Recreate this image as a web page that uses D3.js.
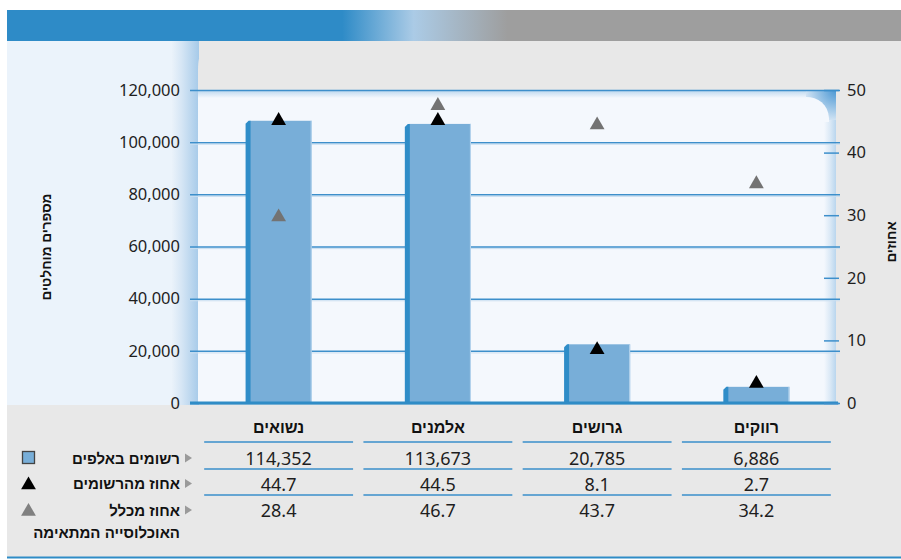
<!DOCTYPE html>
<html>
<head>
<meta charset="utf-8">
<script src="https://cdn.jsdelivr.net/npm/d3@7/dist/d3.min.js"></script>
<style>
  html, body { margin: 0; padding: 0; background: #fff; }
  svg { display: block; }
  .num { font-family: "Noto Sans", "Open Sans", sans-serif; fill: #1e1e1e; }
  .heb { font-family: "Liberation Sans", "DejaVu Sans", sans-serif; font-weight: bold; fill: #111; }
</style>
</head>
<body>
<svg id="chart" width="901" height="560"></svg>
<script>
// chart data
const categories = ['נשואים', 'אלמנים', 'גרושים', 'רווקים'];
const barValues = [108200, 107000, 22500, 6200];
const registeredPct = [45.1, 45.1, 8.5, 3.1];
const populationPct = [29.7, 47.5, 44.4, 35.0];
const leftTicks = [0, 20000, 40000, 60000, 80000, 100000, 120000];
const rightTicks = [0, 10, 20, 30, 40, 50];

// table rows under the chart
const tableRegistered = [114352, 113673, 20785, 6886];
const tablePctRegistered = [44.7, 44.5, 8.1, 2.7];
const tablePctPopulation = [28.4, 46.7, 43.7, 34.2];
const rowLabels = ['רשומים באלפים', 'אחוז מהרשומים', 'אחוז מכלל'];
const rowLabelExtra = 'האוכלוסייה המתאימה';
const leftTitle = 'מספרים מוחלטים';
const rightTitle = 'אחוזים';

const svg = d3.select('#chart');
const defs = svg.append('defs');

const plotTop = 90, plotBottom = 403;
const x = d3.scaleBand().domain(categories).range([199, 836]).padding(0);
const yLeft = d3.scaleLinear().domain([0, 120000]).range([plotBottom, plotTop]);
const yRight = d3.scaleLinear().domain([0, 50]).range([plotBottom, plotTop]);

function linGrad(id, x1, y1, x2, y2, stops) {
  const g = defs.append('linearGradient').attr('id', id)
    .attr('x1', x1).attr('y1', y1).attr('x2', x2).attr('y2', y2);
  stops.forEach((s) => {
    g.append('stop').attr('offset', s[0]).attr('stop-color', s[1]);
  });
}

linGrad('headGrad', 0, 0, 1, 0, [[0, '#2e8bc7'], [0.375, '#2e8bc7'], [0.455, '#abcbe6'], [0.56, '#9e9e9e'], [1, '#9e9e9e']]);
linGrad('leftEdge', 0, 0, 1, 0, [[0, '#eaf2fa'], [0.35, '#d6e6f5'], [1, '#a6cae9']]);
linGrad('rightEdge', 0, 0, 1, 0, [[0, '#f4f8fd'], [0.5, '#dbe9f6'], [1, '#b9d6ee']]);
linGrad('topShade', 0, 0, 0, 1, [[0, '#b9d6ee'], [1, '#f4f8fd']]);
const rg = defs.append('radialGradient').attr('id', 'cornerGrad')
  .attr('cx', 1).attr('cy', 0).attr('r', 1);
rg.append('stop').attr('offset', 0).attr('stop-color', '#4a97d3');
rg.append('stop').attr('offset', 1).attr('stop-color', '#cfe2f3');

// frame and panels
svg.append('rect').attr('x', 7).attr('y', 10).attr('width', 894).attr('height', 31).attr('fill', 'url(#headGrad)');
svg.append('rect').attr('x', 7).attr('y', 41).attr('width', 894).attr('height', 517).attr('fill', '#e8e8e8');
svg.append('rect').attr('x', 7).attr('y', 41).attr('width', 192).attr('height', 364).attr('fill', '#ebf3fb');
svg.append('rect').attr('x', 172).attr('y', 41).attr('width', 27).attr('height', 364).attr('fill', 'url(#leftEdge)');
svg.append('path').attr('d', 'M198,91 V70 C198,52 204,41 214,41 H901 V91 Z').attr('fill', '#e8e8e8');

// plot area
svg.append('rect').attr('x', 198).attr('y', plotTop).attr('width', 638).attr('height', plotBottom - plotTop).attr('fill', '#f4f8fd');
svg.append('rect').attr('x', 198).attr('y', plotTop).attr('width', 638).attr('height', 8).attr('fill', 'url(#topShade)');
svg.append('rect').attr('x', 824).attr('y', plotTop).attr('width', 12).attr('height', plotBottom - plotTop).attr('fill', 'url(#rightEdge)');
svg.append('rect').attr('x', 806).attr('y', plotTop).attr('width', 30).attr('height', 30).attr('fill', 'url(#cornerGrad)');
svg.append('path').attr('d', `M806,${plotTop + 7} C818,${plotTop + 7} 828,${plotTop + 14} 829,${plotTop + 28} V${plotTop + 32} H806 Z`).attr('fill', '#f4f8fd');

// left axis with gridlines
const gLeft = svg.append('g').attr('transform', 'translate(190,0)')
  .call(d3.axisLeft(yLeft).tickValues(leftTicks).tickFormat(d3.format(','))
    .tickSizeInner(-650).tickSizeOuter(0).tickPadding(10));
gLeft.select('.domain').remove();
gLeft.selectAll('.tick line').attr('stroke', '#3d8fcb').attr('stroke-width', 1.5);
gLeft.selectAll('.tick').filter((d) => d > 0 && d < 120000).append('line')
  .attr('x1', 0).attr('x2', 650).attr('y1', 1.6).attr('y2', 1.6)
  .attr('stroke', '#c9def0').attr('stroke-width', 1);
gLeft.selectAll('.tick text').attr('class', 'num').attr('font-size', 16.5).attr('fill', '#1e1e1e');

// bars
const barW = x.bandwidth() * 0.415;
const bars = svg.append('g').selectAll('g').data(categories).join('g')
  .attr('transform', (d) => `translate(${x(d) + x.bandwidth() / 2 - barW / 2},0)`);
bars.append('rect')
  .attr('x', 4).attr('width', barW - 4)
  .attr('y', (d, i) => yLeft(barValues[i]))
  .attr('height', (d, i) => plotBottom - yLeft(barValues[i]))
  .attr('fill', '#78aed8');
bars.append('path')
  .attr('d', (d, i) => {
    const t = yLeft(barValues[i]);
    return `M0,${t + 3} L3,${t} H5 V${plotBottom} H0 Z`;
  })
  .attr('fill', '#2f8dc8');
bars.append('line')
  .attr('x1', barW - 0.5).attr('x2', barW - 0.5)
  .attr('y1', (d, i) => yLeft(barValues[i])).attr('y2', plotBottom)
  .attr('stroke', '#b8d6ee').attr('stroke-width', 1);

// baseline
svg.append('line').attr('x1', 190).attr('x2', 838).attr('y1', plotBottom).attr('y2', plotBottom)
  .attr('stroke', '#2f8cc6').attr('stroke-width', 3);

// right axis
const gRight = svg.append('g').attr('transform', 'translate(839,0)')
  .call(d3.axisRight(yRight).tickValues(rightTicks)
    .tickSizeInner(-15).tickSizeOuter(0).tickPadding(8));
gRight.select('.domain').remove();
gRight.selectAll('.tick line').attr('stroke', '#3d8fcb').attr('stroke-width', 1.5);
gRight.selectAll('.tick text').attr('class', 'num').attr('font-size', 16.5).attr('fill', '#1e1e1e');

// triangle markers
const tri = d3.symbol(d3.symbolTriangle, 95);
svg.append('g').selectAll('path').data(categories).join('path')
  .attr('d', tri)
  .attr('transform', (d, i) => `translate(${x(d) + x.bandwidth() / 2},${yRight(populationPct[i])})`)
  .attr('fill', '#737373');
svg.append('g').selectAll('path').data(categories).join('path')
  .attr('d', tri)
  .attr('transform', (d, i) => `translate(${x(d) + x.bandwidth() / 2},${yRight(registeredPct[i])})`)
  .attr('fill', '#000');

// axis titles
svg.append('text').attr('class', 'heb').attr('font-size', 13.5)
  .attr('text-anchor', 'middle').attr('dominant-baseline', 'central')
  .attr('transform', 'translate(46,247) rotate(-90)').text(leftTitle);
svg.append('text').attr('class', 'heb').attr('font-size', 13.5)
  .attr('text-anchor', 'middle').attr('dominant-baseline', 'central')
  .attr('transform', 'translate(891,242) rotate(-90)').text(rightTitle);

// table
const colW = x.bandwidth() * 0.935;
const table = svg.append('g');
table.selectAll('text.head').data(categories).join('text')
  .attr('class', 'heb head').attr('font-size', 16)
  .attr('x', (d) => x(d) + x.bandwidth() / 2).attr('y', 427)
  .attr('text-anchor', 'middle').attr('dominant-baseline', 'central')
  .text((d) => d);

const rowsY = [458, 483.5, 510];
const lineY = [442, 469, 495];
const rowVals = [
  tableRegistered.map(d3.format(',')),
  tablePctRegistered.map(d3.format('.1f')),
  tablePctPopulation.map(d3.format('.1f'))
];

lineY.forEach((ly) => {
  table.append('g').selectAll('line').data(categories).join('line')
    .attr('x1', (d) => x(d) + x.bandwidth() / 2 - colW / 2)
    .attr('x2', (d) => x(d) + x.bandwidth() / 2 + colW / 2)
    .attr('y1', ly).attr('y2', ly)
    .attr('stroke', '#3a8fcb').attr('stroke-width', 1.6);
});

rowVals.forEach((vals, r) => {
  table.append('g').selectAll('text').data(vals).join('text')
    .attr('class', 'num').attr('font-size', 18)
    .attr('x', (d, i) => x(categories[i]) + x.bandwidth() / 2).attr('y', rowsY[r])
    .attr('text-anchor', 'middle').attr('dominant-baseline', 'central')
    .text((d) => d);

  table.append('text').attr('class', 'heb').attr('font-size', 15)
    .attr('x', 180).attr('y', rowsY[r])
    .attr('text-anchor', 'end').attr('dominant-baseline', 'central')
    .text(rowLabels[r]);

  // small pointer next to each row label
  table.append('path')
    .attr('d', `M185,${rowsY[r] - 4.5} L192,${rowsY[r]} L185,${rowsY[r] + 4.5} Z`)
    .attr('fill', '#9a9a9a');
});

table.append('text').attr('class', 'heb').attr('font-size', 15)
  .attr('x', 180).attr('y', 532)
  .attr('text-anchor', 'end').attr('dominant-baseline', 'central')
  .text(rowLabelExtra);

// legend icons
table.append('rect').attr('x', 22.5).attr('y', rowsY[0] - 6.5).attr('width', 12).attr('height', 12)
  .attr('fill', '#78aed8').attr('stroke', '#444').attr('stroke-width', 1.3);
table.append('path').attr('d', tri).attr('transform', `translate(28.5,${rowsY[1] + 1.5})`).attr('fill', '#000');
table.append('path').attr('d', tri).attr('transform', `translate(28.5,${rowsY[2] + 1.5})`).attr('fill', '#808080');

// bottom rule
svg.append('line').attr('x1', 7).attr('x2', 901).attr('y1', 557.5).attr('y2', 557.5)
  .attr('stroke', '#2f8cc6').attr('stroke-width', 2);
</script>
</body>
</html>
